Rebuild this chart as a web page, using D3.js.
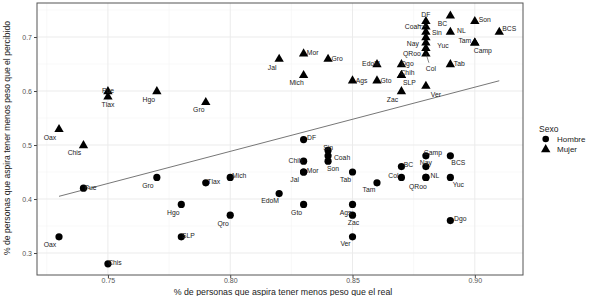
<!DOCTYPE html>
<html>
<head>
<meta charset="utf-8">
<script src="https://cdn.jsdelivr.net/npm/d3@7"></script>
<style>
  body { margin: 0; background: #fff; }
  text { font-family: "Liberation Sans", Arial, sans-serif; }
</style>
</head>
<body>
<svg id="chart" width="595" height="296"></svg>
<script>
// states, x = % aspira menos peso que el real, y = % aspira menos peso que el percibido
const mujerEstados = ["Pue","Tlax","Hgo","Oax","Chis","Gro","Jal","Mor","Gro","Mich","Ags","EdoM","Gto","Dgo","Chih","SLP","Zac","Ver","Tab","DF","BC","Son","NL","Tam","Camp","BCS","Coah","Sin","Nay","Yuc","QRoo","Col"];
const mujerX = [0.75,0.75,0.77,0.73,0.74,0.79,0.82,0.83,0.84,0.83,0.85,0.86,0.86,0.87,0.87,0.87,0.87,0.88,0.89,0.88,0.89,0.90,0.89,0.90,0.90,0.91,0.88,0.88,0.88,0.88,0.88,0.88];
const mujerY = [0.60,0.59,0.60,0.53,0.50,0.58,0.66,0.67,0.66,0.63,0.62,0.65,0.62,0.65,0.63,0.63,0.60,0.61,0.65,0.73,0.74,0.73,0.71,0.69,0.69,0.71,0.72,0.71,0.70,0.69,0.68,0.67];

const hombreEstados = ["Oax","Pue","Chis","Gro","Hgo","SLP","Tlax","Mich","Qro","EdoM","Gto","DF","Chih","Mor","Jal","Sin","Coah","Son","Tab","Ags","Zac","Ver","Tam","Camp","BCS","BC","Nay","Col","NL","QRoo","Yuc","Dgo"];
const hombreX = [0.73,0.74,0.75,0.77,0.78,0.78,0.79,0.80,0.80,0.82,0.83,0.83,0.83,0.83,0.83,0.84,0.84,0.84,0.85,0.85,0.85,0.85,0.86,0.88,0.89,0.87,0.88,0.87,0.88,0.88,0.89,0.89];
const hombreY = [0.33,0.42,0.28,0.44,0.39,0.33,0.43,0.44,0.37,0.41,0.39,0.51,0.47,0.45,0.45,0.49,0.48,0.47,0.45,0.39,0.37,0.33,0.43,0.48,0.48,0.46,0.46,0.44,0.44,0.44,0.44,0.36];

// smooth line (lm)
const ajusteX = [0.73, 0.91];
const ajusteY = [0.405, 0.619];

const xTicks = [0.75, 0.80, 0.85, 0.90];
const yTicks = [0.3, 0.4, 0.5, 0.6, 0.7];

// label nudges (px) like ggrepel left them
const nudgeMujer = {
  Pue:[0,-1], Tlax:[0,8], Hgo:[-8,8], Oax:[-9,9], Chis:[-9,7], Gro0:[-7,8], Jal:[-7,9], Mor:[9,-1], Gro1:[9,0],
  Mich:[-7,8], Ags:[9,0], EdoM:[-6,-1], Gto:[9,0], Dgo:[6,-1], Chih:[6,-2], SLP:[8,8], Zac:[-9,8], Ver:[10,9],
  Tab:[9,-1], DF:[0,-6], BC:[-8,8], Son:[10,-1], NL:[11,-1], Tam:[-10,-2], Camp:[8,8], BCS:[10,-3],
  Coah:[-13,0], Sin:[11,1], Nay:[-13,6], Yuc:[17,3], QRoo:[-14,6], Col:[5,15]
};
const nudgeHombre = {
  Oax:[-9,8], Pue:[7,-1], Chis:[7,-1], Gro:[-9,8], Hgo:[-8,8], SLP:[7,-1], Tlax:[8,-1], Mich:[9,-2], Qro:[-7,8],
  EdoM:[-9,7], Gto:[-7,8], DF:[8,-2], Chih:[-8,-1], Mor:[9,-2], Jal:[-9,7], Sin:[0,-3], Coah:[14,2], Son:[5,7],
  Tab:[-7,7], Ags:[-7,8], Zac:[1,7], Ver:[-7,7], Tam:[-8,7], Camp:[7,-3], BCS:[8,7], BC:[7,-2], Nay:[0,-4],
  Col:[-8,-2], NL:[9,-2], QRoo:[-8,9], Yuc:[8,7], Dgo:[10,-2]
};
const segmentos = ["Coah","Col"]; // mujer labels with leader lines

const svg = d3.select("#chart");
const margin = {left: 37, top: 3, right: 72, bottom: 21};
const W = 595, H = 296;

const x = d3.scaleLinear().domain([0.7210, 0.9197]).range([margin.left, W - margin.right]);
const y = d3.scaleLinear().domain([0.2593, 0.7630]).range([H - margin.bottom, margin.top]);

let gridCol = "#ebebeb";
const g = svg.append("g");

// minor grid
[0.725, 0.775, 0.825, 0.875].forEach(v => g.append("line")
  .attr("x1", x(v)).attr("x2", x(v)).attr("y1", margin.top).attr("y2", H - margin.bottom)
  .attr("stroke", "#f4f4f4").attr("stroke-width", 0.6));
[0.35, 0.45, 0.55, 0.65, 0.75].forEach(v => g.append("line")
  .attr("y1", y(v)).attr("y2", y(v)).attr("x1", margin.left).attr("x2", W - margin.right)
  .attr("stroke", "#f4f4f4").attr("stroke-width", 0.6));
// major grid
xTicks.forEach(v => g.append("line")
  .attr("x1", x(v)).attr("x2", x(v)).attr("y1", margin.top).attr("y2", H - margin.bottom)
  .attr("stroke", gridCol).attr("stroke-width", 1));
yTicks.forEach(v => g.append("line")
  .attr("y1", y(v)).attr("y2", y(v)).attr("x1", margin.left).attr("x2", W - margin.right)
  .attr("stroke", gridCol).attr("stroke-width", 1));

// axes
const xAxis = svg.append("g").attr("transform", `translate(0,${H - margin.bottom})`)
  .call(d3.axisBottom(x).tickValues(xTicks).tickFormat(d3.format(".2f")).tickSize(3).tickPadding(0.5));
const yAxis = svg.append("g").attr("transform", `translate(${margin.left},0)`)
  .call(d3.axisLeft(y).tickValues(yTicks).tickFormat(d3.format(".1f")).tickSize(3).tickPadding(2));
[xAxis, yAxis].forEach(a => {
  a.select(".domain").remove();
  a.selectAll("line").attr("stroke", "#444");
  a.selectAll("text").attr("fill", "#555").style("font-size", "7px");
});

// panel border
svg.append("rect").attr("x", margin.left).attr("y", margin.top)
  .attr("width", W - margin.right - margin.left).attr("height", H - margin.bottom - margin.top)
  .attr("fill", "none").attr("stroke", "#555").attr("stroke-width", 1);

// data rows
const mujer = mujerEstados.map((e, i) => ({estado: e, x: mujerX[i], y: mujerY[i], key: e === "Gro" ? "Gro" + (i === 5 ? 0 : 1) : e}));
const hombre = hombreEstados.map((e, i) => ({estado: e, x: hombreX[i], y: hombreY[i], key: e}));

// smooth line
svg.append("path")
  .datum(ajusteX.map((v, i) => [v, ajusteY[i]]))
  .attr("d", d3.line().x(d => x(d[0])).y(d => y(d[1])))
  .attr("stroke", "#777").attr("stroke-width", 1).attr("fill", "none");

// points
const tri = d3.symbol().type(d3.symbolTriangle).size(38);
svg.append("g").selectAll("path").data(mujer).join("path")
  .attr("d", tri)
  .attr("transform", d => `translate(${x(d.x)},${y(d.y) + 0.5})`)
  .attr("fill", "#000");
svg.append("g").selectAll("circle").data(hombre).join("circle")
  .attr("cx", d => x(d.x)).attr("cy", d => y(d.y)).attr("r", 3.6)
  .attr("fill", "#000");

// leader segments
svg.append("g").selectAll("line").data(mujer.filter(d => segmentos.includes(d.estado))).join("line")
  .attr("x1", d => x(d.x)).attr("y1", d => y(d.y))
  .attr("x2", d => x(d.x) + nudgeMujer[d.key][0] * 0.6)
  .attr("y2", d => y(d.y) + nudgeMujer[d.key][1] * 0.7 - 1)
  .attr("stroke", "#333").attr("stroke-width", 0.6);

// labels
function etiquetas(data, nudge) {
  svg.append("g").selectAll("text").data(data).join("text")
    .attr("x", d => x(d.x) + nudge[d.key][0])
    .attr("y", d => y(d.y) + nudge[d.key][1] + 2.5)
    .attr("text-anchor", "middle")
    .style("font-size", "6.8px")
    .attr("fill", "#222")
    .text(d => d.estado);
}
etiquetas(mujer, nudgeMujer);
etiquetas(hombre, nudgeHombre);

// axis titles
svg.append("text").attr("x", 283).attr("y", 295)
  .attr("text-anchor", "middle").style("font-size", "8.8px").attr("fill", "#222")
  .text("% de personas que aspira tener menos peso que el real");
svg.append("text").attr("transform", "translate(10,138) rotate(-90)")
  .attr("text-anchor", "middle").style("font-size", "8.6px").attr("fill", "#222")
  .text("% de personas que aspira tener menos peso que el percibido");

// legend
const leg = svg.append("g");
leg.append("text").attr("x", 539).attr("y", 131.5).style("font-size", "8.5px").attr("fill", "#222").text("Sexo");
leg.append("circle").attr("cx", 545.7).attr("cy", 139).attr("r", 3.3).attr("fill", "#000");
leg.append("path").attr("d", tri).attr("transform", "translate(545.7,149.5)").attr("fill", "#000");
leg.append("text").attr("x", 557).attr("y", 141.8).style("font-size", "8px").attr("fill", "#222").text("Hombre");
leg.append("text").attr("x", 557).attr("y", 151.8).style("font-size", "8px").attr("fill", "#222").text("Mujer");
</script>
</body>
</html>
